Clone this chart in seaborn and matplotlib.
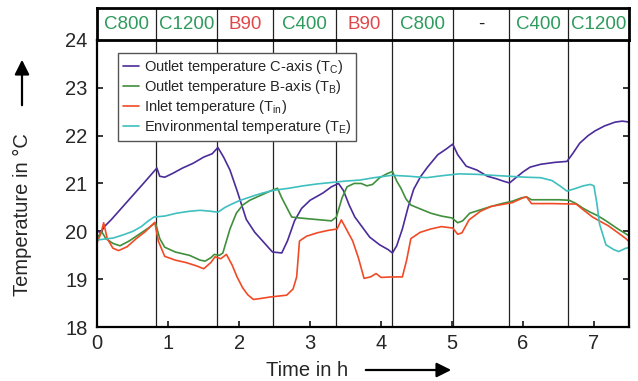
import pandas as pd
import matplotlib.pyplot as plt
import seaborn as sns
import numpy as np

# time (h) and temperatures (degC)
t_c = [0.00, 0.05, 0.10, 0.20, 0.35, 0.50, 0.65, 0.78, 0.84, 0.88, 0.95, 1.05, 1.20, 1.35, 1.50, 1.62,
       1.70, 1.78, 1.87, 1.97, 2.10, 2.22, 2.33, 2.42, 2.47, 2.60, 2.68, 2.78, 2.88, 3.00, 3.18, 3.30,
       3.40, 3.47, 3.55, 3.63, 3.72, 3.84, 3.98, 4.10, 4.16, 4.22, 4.30, 4.38, 4.46, 4.56, 4.66, 4.80,
       4.92, 5.01, 5.08, 5.20, 5.35, 5.50, 5.62, 5.72, 5.81, 5.90, 6.00, 6.10, 6.25, 6.45, 6.62, 6.70,
       6.80, 6.92, 7.02, 7.15, 7.30, 7.40, 7.50]
temp_c = [20.00, 19.98, 20.10, 20.25, 20.50, 20.75, 21.00, 21.22, 21.32, 21.15, 21.13, 21.20, 21.32, 21.42, 21.55, 21.62,
          21.75, 21.55, 21.28, 20.85, 20.25, 19.98, 19.80, 19.65, 19.57, 19.55, 19.80, 20.22, 20.48, 20.65, 20.80, 20.93,
          21.00, 20.85, 20.55, 20.30, 20.12, 19.88, 19.72, 19.62, 19.55, 19.70, 20.05, 20.50, 20.88, 21.15, 21.35, 21.60,
          21.72, 21.82, 21.60, 21.36, 21.28, 21.15, 21.10, 21.05, 21.01, 21.12, 21.24, 21.34, 21.40, 21.44, 21.46, 21.62,
          21.84, 22.00, 22.10, 22.20, 22.28, 22.30, 22.28]

t_b = [0.00, 0.06, 0.12, 0.22, 0.32, 0.45, 0.60, 0.72, 0.82, 0.88, 0.95, 1.10, 1.30, 1.45, 1.52, 1.60,
       1.65, 1.72, 1.77, 1.82, 1.87, 1.96, 2.05, 2.15, 2.30, 2.45, 2.54, 2.60, 2.67, 2.74, 2.85, 3.00,
       3.15, 3.30, 3.37, 3.45, 3.52, 3.62, 3.72, 3.80, 3.88, 3.98, 4.08, 4.16, 4.22, 4.28, 4.35, 4.42,
       4.55, 4.70, 4.85, 5.00, 5.08, 5.15, 5.25, 5.40, 5.55, 5.70, 5.85, 5.98, 6.05, 6.12, 6.30, 6.50,
       6.65, 6.75, 6.85, 6.95, 7.05, 7.15, 7.25, 7.35, 7.45, 7.50]
temp_b = [19.86, 20.00, 19.85, 19.75, 19.70, 19.80, 19.95, 20.07, 20.18, 19.85, 19.67, 19.57, 19.50, 19.40, 19.38, 19.45,
          19.52, 19.50, 19.55, 19.80, 20.05, 20.38, 20.55, 20.65, 20.75, 20.85, 20.90, 20.70, 20.50, 20.30, 20.28, 20.26,
          20.24, 20.22, 20.30, 20.70, 20.93, 21.00, 21.00, 20.95, 20.98, 21.12, 21.20, 21.25, 21.05, 20.90, 20.68, 20.55,
          20.47, 20.38, 20.32, 20.28, 20.18, 20.22, 20.38, 20.45, 20.52, 20.58, 20.63, 20.70, 20.72, 20.66, 20.66, 20.66,
          20.65, 20.58, 20.48, 20.40, 20.33, 20.24, 20.14, 20.04, 19.95, 19.90]

t_in = [0.00, 0.05, 0.09, 0.14, 0.22, 0.30, 0.42, 0.55, 0.68, 0.81, 0.86, 0.95, 1.10, 1.25, 1.40, 1.50,
        1.60, 1.66, 1.74, 1.82, 1.90, 1.97, 2.05, 2.12, 2.20, 2.30, 2.43, 2.55, 2.67, 2.76, 2.81, 2.85,
        2.95, 3.10, 3.25, 3.38, 3.44, 3.52, 3.60, 3.68, 3.76, 3.85, 3.93, 4.00, 4.15, 4.30, 4.36, 4.42,
        4.55, 4.70, 4.85, 5.01, 5.08, 5.14, 5.24, 5.40, 5.55, 5.70, 5.85, 6.00, 6.05, 6.12, 6.40, 6.75,
        6.85, 6.98, 7.10, 7.20, 7.35, 7.45, 7.50]
temp_in = [19.78, 19.95, 20.18, 19.85, 19.65, 19.60, 19.68, 19.85, 20.00, 20.19, 19.80, 19.48, 19.40, 19.35, 19.28, 19.22,
           19.35, 19.47, 19.43, 19.52, 19.30, 19.05, 18.82, 18.68, 18.58, 18.60, 18.63, 18.65, 18.67, 18.80, 19.05, 19.80,
           19.90, 19.97, 20.02, 20.05, 20.24, 20.02, 19.80, 19.45, 19.02, 19.05, 19.12, 19.04, 19.05, 19.05, 19.40, 19.85,
           19.98, 20.05, 20.10, 20.07, 19.94, 19.97, 20.24, 20.42, 20.52, 20.56, 20.60, 20.70, 20.72, 20.58, 20.58, 20.57,
           20.45, 20.30, 20.20, 20.12, 19.96, 19.85, 19.78]

t_e = [0.00, 0.10, 0.22, 0.35, 0.50, 0.62, 0.72, 0.80, 0.95, 1.12, 1.30, 1.45, 1.60, 1.70, 1.80, 1.91,
       2.00, 2.10, 2.22, 2.33, 2.50, 2.70, 2.90, 3.10, 3.30, 3.50, 3.70, 3.90, 4.15, 4.40, 4.64, 4.85,
       5.10, 5.35, 5.57, 5.80, 6.04, 6.25, 6.41, 6.52, 6.62, 6.75, 6.85, 6.95, 7.00, 7.04, 7.08, 7.17,
       7.28, 7.35, 7.45, 7.50]
temp_e = [19.82, 19.84, 19.86, 19.92, 20.00, 20.10, 20.22, 20.30, 20.32, 20.38, 20.42, 20.44, 20.42, 20.40, 20.50, 20.58,
          20.64, 20.69, 20.75, 20.80, 20.86, 20.90, 20.95, 20.99, 21.02, 21.05, 21.07, 21.12, 21.17, 21.15, 21.12, 21.16,
          21.20, 21.19, 21.17, 21.15, 21.13, 21.12, 21.06, 20.95, 20.84, 20.90, 20.95, 20.98, 20.95, 20.60, 20.15, 19.72,
          19.62, 19.58, 19.65, 19.66]

# configuration changes (segment borders in h) and their labels
borders = [0, 0.83, 1.69, 2.48, 3.37, 4.15, 5.02, 5.81, 6.64, 7.5]
segments = ['C800', 'C1200', 'B90', 'C400', 'B90', 'C800', '-', 'C400', 'C1200']

sns.set_theme(style="ticks")
plt.rcParams['font.family'] = ['Liberation Sans', 'DejaVu Sans']
plt.rcParams['mathtext.fontset'] = 'custom'
plt.rcParams['mathtext.rm'] = 'Liberation Sans'

series = [
    (t_c, temp_c, '#4b2c9a', 'Outlet temperature C-axis (T$_\\mathregular{C}$)'),
    (t_b, temp_b, '#3f8f3c', 'Outlet temperature B-axis (T$_\\mathregular{B}$)'),
    (t_in, temp_in, '#f04b26', 'Inlet temperature (T$_\\mathregular{in}$)'),
    (t_e, temp_e, '#3fbfbf', 'Environmental temperature (T$_\\mathregular{E}$)'),
]

fig = plt.figure(figsize=(6.38, 3.81), dpi=100)
ax = fig.add_axes([0.1525, 0.141, 0.834, 0.755])
tab = fig.add_axes([0.1525, 0.896, 0.834, 0.082], sharex=ax)

for t, v, col, lab in series:
    df = pd.DataFrame({'t': t, 'T': v})
    sns.lineplot(data=df, x='t', y='T', color=col, lw=1.2, label=lab,
                 estimator=None, sort=False, ax=ax)

for b in borders[1:-1]:
    ax.axvline(b, color='#222222', lw=0.9, zorder=0)
    tab.axvline(b, color='#222222', lw=0.9)

for i, name in enumerate(segments):
    mid = (borders[i] + borders[i + 1]) / 2
    col = '#e0474a' if name.startswith('B') else ('#2e9a5c' if name != '-' else '#222222')
    tab.text(mid, 0.48, name, ha='center', va='center', fontsize=13.5, color=col)

ax.set_xlim(0, 7.5)
ax.set_ylim(18, 24)
ax.set_xticks(range(0, 8))
ax.set_yticks(range(18, 25))
ax.set_xlabel('')
ax.set_ylabel('')
ax.tick_params(direction='in', length=4, width=1.3, labelsize=14.5, right=True, top=False)
ax.tick_params(axis='x', pad=5)
ax.tick_params(axis='y', pad=7)
for s in ax.spines.values():
    s.set_linewidth(1.6)
    s.set_color('black')

tab.set_ylim(0, 1)
tab.tick_params(left=False, bottom=False, labelleft=False, labelbottom=False)
for s in tab.spines.values():
    s.set_linewidth(2.0)
    s.set_color('black')

leg = ax.legend(loc='upper left', bbox_to_anchor=(0.039, 0.955), borderaxespad=0,
                fontsize=10.5, handlelength=1.1, handletextpad=0.3, labelspacing=0.15,
                fancybox=False, edgecolor='#555555', framealpha=1, borderpad=0.35)
leg.get_frame().set_linewidth(1.0)

# axis labels with arrows
fig.text(22 / 638, 1 - 215 / 381, 'Temperature in °C', rotation=90, ha='center', va='center', fontsize=14.5)
ax.annotate('', xy=(22 / 638, 1 - 57 / 381), xytext=(22 / 638, 1 - 108 / 381),
            xycoords='figure fraction', textcoords='figure fraction',
            arrowprops=dict(arrowstyle='-|>', color='black', lw=1.6, mutation_scale=22))
fig.text(307 / 638, 1 - 370 / 381, 'Time in h', ha='center', va='center', fontsize=14.5)
ax.annotate('', xy=(454 / 638, 1 - 370 / 381), xytext=(363 / 638, 1 - 370 / 381),
            xycoords='figure fraction', textcoords='figure fraction',
            arrowprops=dict(arrowstyle='-|>', color='black', lw=1.6, mutation_scale=22))

plt.savefig('out.png', dpi=100)
plt.close()
